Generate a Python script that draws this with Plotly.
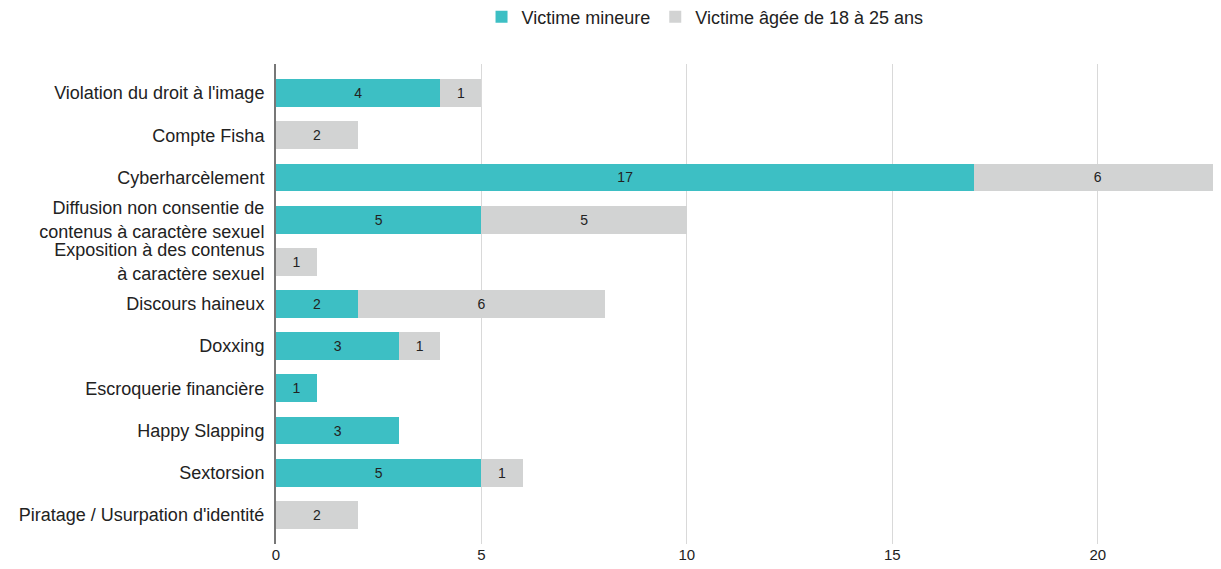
import plotly.graph_objects as go

categories = [
    "Violation du droit à l'image",
    "Compte Fisha",
    "Cyberharcèlement",
    "Diffusion non consentie de<br>contenus à caractère sexuel",
    "Exposition à des contenus<br>à caractère sexuel",
    "Discours haineux",
    "Doxxing",
    "Escroquerie financière",
    "Happy Slapping",
    "Sextorsion",
    "Piratage / Usurpation d'identité",
]
mineure = [4, None, 17, 5, None, 2, 3, 1, 3, 5, None]
jeune = [1, 2, 6, 5, 1, 6, 1, None, None, 1, 2]
series_names = ["Victime mineure", "Victime âgée de 18 à 25 ans"]
x_ticks = [0, 5, 10, 15, 20]

teal = "#3DBFC4"
grey = "#D2D3D3"
FONT = "Liberation Sans"

fig = go.Figure()
for name, vals, col in [(series_names[0], mineure, teal), (series_names[1], jeune, grey)]:
    fig.add_trace(go.Bar(
        y=categories, x=vals, name=name, orientation="h",
        marker=dict(color=col, line=dict(width=0)),
        text=[("" if v is None else str(v)) for v in vals],
        textposition="inside", insidetextanchor="middle", textangle=0,
        textfont=dict(size=14, color="#222222", family=FONT),
        constraintext="none",
    ))

fig.update_layout(
    barmode="stack",
    bargap=0.34,
    width=1213, height=561,
    margin=dict(l=268, r=0, t=56, b=25, autoexpand=False),
    plot_bgcolor="white", paper_bgcolor="white",
    font=dict(family=FONT, size=18, color="#222222"),
    legend=dict(
        orientation="h", x=0.454, xanchor="center", y=1.098, yanchor="middle",
        font=dict(size=18, color="#222222"),
        traceorder="normal",
    ),
)
fig.update_xaxes(
    range=[0, 23], tickvals=x_ticks, showgrid=True, gridcolor="#D9D9D9",
    gridwidth=1, zeroline=False, showline=False, tickfont=dict(size=15),
)
fig.update_yaxes(
    categoryorder="array", categoryarray=categories,
    range=[10.69, -0.69], showgrid=False, zeroline=False,
    showline=True, linecolor="#777777", linewidth=2,
    ticks="", ticklabelstandoff=6, tickfont=dict(size=18),
)
fig.write_html("out.html")
